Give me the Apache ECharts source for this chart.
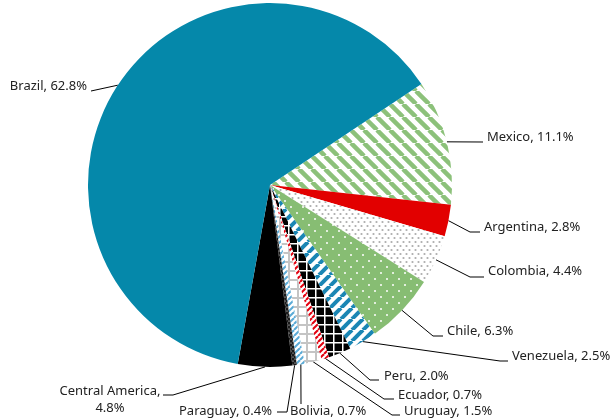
<!DOCTYPE html>
<html>
<head>
<meta charset="utf-8">
<script src="https://cdn.jsdelivr.net/npm/echarts@6/dist/echarts.min.js"></script>
<style>
  html, body { margin: 0; padding: 0; background: #fff; }
  #chart { width: 611px; height: 419px; }
</style>
</head>
<body>
<div id="chart"></div>
<script>
// slice order is clockwise, starting at Mexico (upper right)
var countries = ['Mexico', 'Argentina', 'Colombia', 'Chile', 'Venezuela', 'Peru',
  'Ecuador', 'Uruguay', 'Bolivia', 'Paraguay', 'Central America', 'Brazil'];
var shares = [11.1, 2.8, 4.4, 6.3, 2.5, 2.0, 0.7, 1.5, 0.7, 0.4, 4.8, 62.8];

// label placement: text x, text y, align, line end x, line end y, elbow x (null = straight)
var labelSpots = {
  'Mexico':          [487, 137, 'left',   483, 142, null],
  'Argentina':       [484, 227, 'left',   480, 232, 470],
  'Colombia':        [488, 271, 'left',   484, 277, 470],
  'Chile':           [447, 331, 'left',   443, 336, 433],
  'Venezuela':       [512, 356, 'left',   508, 361, 500],
  'Peru':            [384, 376, 'left',   379, 380, 370],
  'Ecuador':         [398, 395, 'left',   394, 399, 384],
  'Uruguay':         [404, 411, 'left',   400, 415, 392],
  'Bolivia':         [290, 411, 'left',   301, 404, null],
  'Paraguay':        [272, 411, 'right',  277, 412, 287],
  'Central America': [110, 400, 'center', 163, 395, 173],
  'Brazil':          [87, 86, 'right',    91, 91, null]
};

// small canvas tiles used as pattern fills
function tile(w, h, draw) {
  var c = document.createElement('canvas');
  c.width = w; c.height = h;
  draw(c.getContext('2d'), w, h);
  return { image: c, repeat: 'repeat' };
}
function diag(bg, fg, s, lw, up) {
  return tile(s, s, function (g) {
    g.fillStyle = bg; g.fillRect(0, 0, s, s);
    g.strokeStyle = fg; g.lineWidth = lw;
    for (var k = -1; k <= 1; k++) {
      g.beginPath();
      if (up) { g.moveTo(k * s, s); g.lineTo(k * s + s, 0); }
      else { g.moveTo(k * s, 0); g.lineTo(k * s + s, s); }
      g.stroke();
    }
  });
}
function grid(bg, fg, s, lw) {
  return tile(s, s, function (g) {
    g.fillStyle = bg; g.fillRect(0, 0, s, s);
    g.fillStyle = fg;
    g.fillRect(0, 0, s, lw);
    g.fillRect(0, 0, lw, s);
  });
}
function dots(bg, fg, w, h, r) {
  return tile(w, h, function (g) {
    g.fillStyle = bg; g.fillRect(0, 0, w, h);
    g.fillStyle = fg;
    [[w / 4, h / 4], [w * 3 / 4, h * 3 / 4]].forEach(function (p) {
      g.beginPath(); g.arc(p[0], p[1], r, 0, Math.PI * 2); g.fill();
    });
  });
}

var fills = {
  'Mexico': diag('#ffffff', '#8cc17a', 13, 4.5, false),
  'Argentina': '#e20000',
  'Colombia': dots('#ffffff', '#adadad', 6, 8, 1.1),
  'Chile': dots('#87bd73', '#ffffff', 12, 12, 1),
  'Venezuela': diag('#ffffff', '#1a86b4', 11, 4, true),
  'Peru': grid('#000000', '#ffffff', 9, 1.5),
  'Ecuador': diag('#ffffff', '#e3000f', 6, 2, true),
  'Uruguay': grid('#ffffff', '#c4c4c4', 9, 2),
  'Bolivia': diag('#ffffff', '#5aaad6', 6, 2, true),
  'Paraguay': dots('#1a1a1a', '#ffffff', 4, 4, 0.6),
  'Central America': '#000000',
  'Brazil': '#0588aa'
};

var pieData = countries.map(function (name, i) {
  return { name: name, value: shares[i], itemStyle: { color: fills[name] } };
});

var chart = echarts.init(document.getElementById('chart'), null, { renderer: 'canvas' });
chart.setOption({
  animation: false,
  series: [{
    type: 'pie',
    center: [270, 185],
    radius: 182,
    startAngle: 33.7,
    clockwise: true,
    avoidLabelOverlap: false,
    emphasis: { disabled: true },
    itemStyle: { borderWidth: 0 },
    data: pieData,
    label: {
      show: true,
      position: 'outside',
      width: 200,
      overflow: 'none',
      color: '#222222',
      fontFamily: 'Noto Sans',
      fontSize: 13,
      lineHeight: 17,
      formatter: function (p) {
        var sep = p.name === 'Central America' ? ',\n' : ', ';
        return p.name + sep + p.value.toFixed(1) + '%';
      }
    },
    labelLine: {
      show: true,
      smooth: false,
      lineStyle: { color: '#000000', width: 1 }
    },
    labelLayout: function (p) {
      var s = labelSpots[countries[p.dataIndex]];
      var a = p.labelLinePoints ? p.labelLinePoints[0] : [s[3], s[4]];
      var pts = [a];
      if (s[5] != null) pts.push([s[5], s[4]]);
      pts.push([s[3], s[4]]);
      return {
        x: s[0], y: s[1], align: s[2], verticalAlign: 'middle',
        labelLinePoints: pts
      };
    }
  }]
});
</script>
</body>
</html>
